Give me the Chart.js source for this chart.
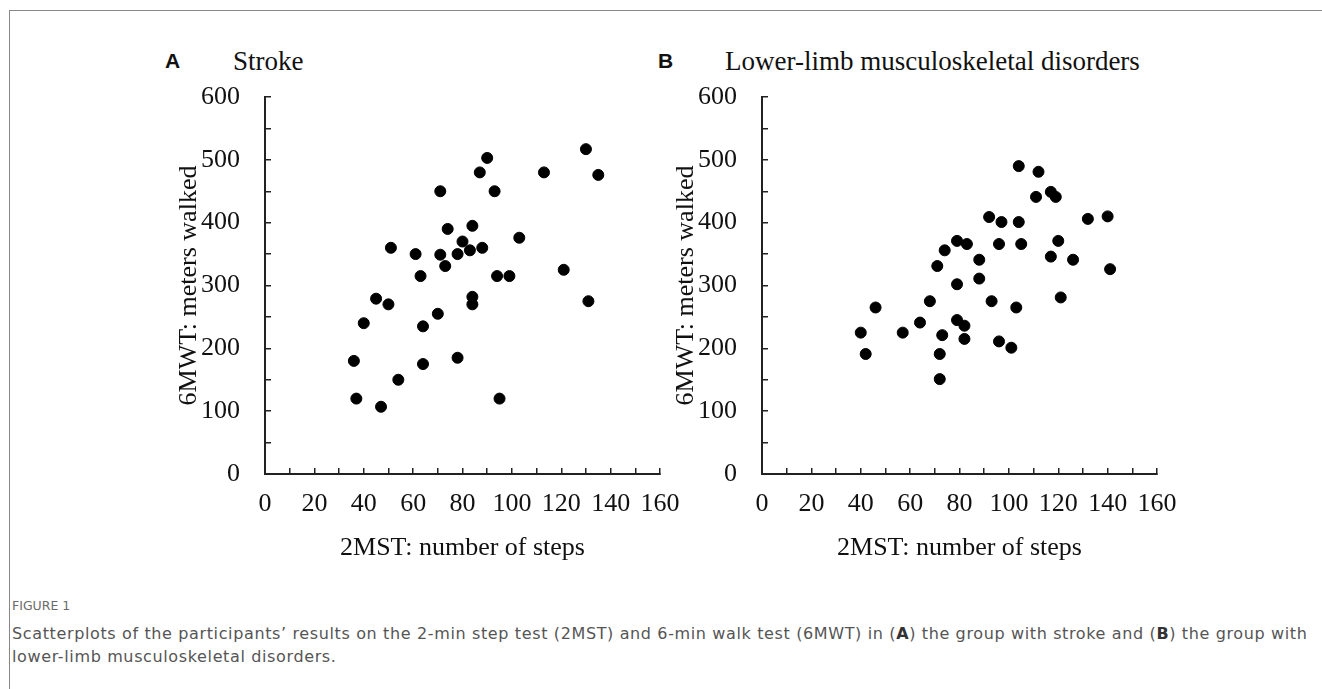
<!DOCTYPE html>
<html>
<head>
<meta charset="utf-8">
<script src="https://cdn.jsdelivr.net/npm/chart.js@4/dist/chart.umd.min.js"></script>
<style>
  body { margin: 0; background: #fff; width: 1322px; height: 689px; overflow: hidden; position: relative; }
  .frame { position: absolute; left: 9px; top: 10px; width: 1400px; height: 800px; border-left: 1px solid #888; border-top: 1px solid #888; }
  canvas { position: absolute; top: 70px; }
  .tag { position: absolute; top: 49px; font-family: "Liberation Sans", Arial, sans-serif; font-weight: bold; font-size: 21px; line-height: 24px; color: #111; }
  .head { position: absolute; top: 46px; font-family: "Liberation Serif", serif; font-size: 27px; line-height: 30px; color: #111; }
  .fig { position: absolute; left: 12px; top: 598px; font-family: "DejaVu Sans", sans-serif; font-size: 12.5px; color: #6a6a6a; }
  .cap { position: absolute; left: 12px; top: 622px; width: 1310px; white-space: nowrap; font-family: "DejaVu Sans", sans-serif; font-size: 16px; letter-spacing: 0.63px; line-height: 23px; color: #555; }
  .cap b { color: #333; }
</style>
</head>
<body>
<div class="frame"></div>
<div class="tag" style="left:165px">A</div>
<div class="head" style="left:233px">Stroke</div>
<div class="tag" style="left:658px">B</div>
<div class="head" style="left:725px">Lower-limb musculoskeletal disorders</div>
<canvas id="chartA" width="520" height="498" style="left:160px"></canvas>
<canvas id="chartB" width="520" height="498" style="left:657px"></canvas>
<div class="fig">FIGURE 1</div>
<div class="cap">Scatterplots of the participants’ results on the 2-min step test (2MST) and 6-min walk test (6MWT) in (<b>A</b>) the group with stroke and (<b>B</b>) the group with<br>lower-limb musculoskeletal disorders.</div>
<script>
// A: stroke group
const strokeSteps = [36, 37, 40, 45, 47, 50, 51, 54, 61, 63, 64, 64, 70, 71, 71, 73, 74, 78, 78, 80, 83, 84, 84, 84, 87, 88, 90, 93, 94, 95, 99, 103, 113, 121, 130, 131, 135];
const strokeMeters = [180, 120, 240, 279, 107, 270, 360, 150, 350, 315, 235, 175, 255, 450, 349, 331, 390, 350, 185, 370, 356, 395, 282, 270, 480, 360, 503, 450, 315, 120, 315, 376, 480, 325, 517, 275, 476];

// B: lower-limb musculoskeletal disorders
const mskSteps = [40, 42, 46, 57, 64, 68, 71, 72, 72, 73, 74, 79, 79, 79, 82, 82, 83, 88, 88, 92, 93, 96, 96, 97, 101, 103, 104, 104, 105, 111, 112, 117, 117, 119, 120, 121, 126, 132, 140, 141];
const mskMeters = [225, 191, 265, 225, 241, 275, 331, 191, 151, 221, 356, 371, 302, 245, 236, 215, 366, 341, 311, 409, 275, 366, 211, 401, 201, 265, 490, 401, 366, 441, 481, 449, 346, 441, 371, 281, 341, 406, 410, 326];

const xTickLabels = [0, 20, 40, 60, 80, 100, 120, 140, 160];
const yTickLabels = [0, 100, 200, 300, 400, 500, 600];

const serif = "'Liberation Serif', 'Times New Roman', serif";

// fixed box sizes so both panels line up with the figure
function fixBox(s, w, h) {
  if (w !== null) s.width = w;
  if (h !== null) s.height = h;
  s.paddingTop = 0;
  s.paddingBottom = 0;
  s.paddingLeft = 0;
  s.paddingRight = 0;
}

function makeChart(id, steps, meters) {
  const points = steps.map((s, i) => ({ x: s, y: meters[i] }));
  return new Chart(document.getElementById(id), {
    type: "scatter",
    data: {
      datasets: [{
        data: points,
        backgroundColor: "#000",
        borderColor: "#000",
        pointRadius: 5.5,
        pointHoverRadius: 5.5,
      }],
    },
    options: {
      responsive: false,
      animation: false,
      layout: { padding: { top: 27, right: 20, left: 0, bottom: 0 } },
      plugins: { legend: { display: false }, tooltip: { enabled: false } },
      scales: {
        x: {
          type: "linear",
          min: 0,
          max: 160,
          border: { display: true, color: "#222", width: 2 },
          grid: { drawOnChartArea: false, drawTicks: true, tickLength: -6, color: "#222", lineWidth: 1.5 },
          ticks: {
            stepSize: 10,
            autoSkip: false,
            maxRotation: 0,
            padding: 21,
            color: "#111",
            font: { family: serif, size: 26 },
            callback: (v) => (xTickLabels.includes(v) ? v : ""),
          },
          title: { display: true, text: "2MST: number of steps", color: "#111", font: { family: serif, size: 26 }, padding: { top: 0, bottom: 4 } },
          afterFit: (s) => fixBox(s, null, 94),
        },
        y: {
          type: "linear",
          min: 0,
          max: 600,
          border: { display: true, color: "#222", width: 2 },
          grid: { drawOnChartArea: false, drawTicks: true, tickLength: -6, color: "#222", lineWidth: 1.5 },
          ticks: {
            stepSize: 50,
            autoSkip: false,
            padding: 31,
            color: "#111",
            font: { family: serif, size: 26 },
            callback: (v) => (yTickLabels.includes(v) ? v : ""),
          },
          title: { display: true, text: "6MWT: meters walked", color: "#111", font: { family: serif, size: 26 }, padding: { top: 14, bottom: 0 } },
          afterFit: (s) => fixBox(s, 105, null),
        },
      },
    },
  });
}

makeChart("chartA", strokeSteps, strokeMeters);
makeChart("chartB", mskSteps, mskMeters);
</script>
</body>
</html>
